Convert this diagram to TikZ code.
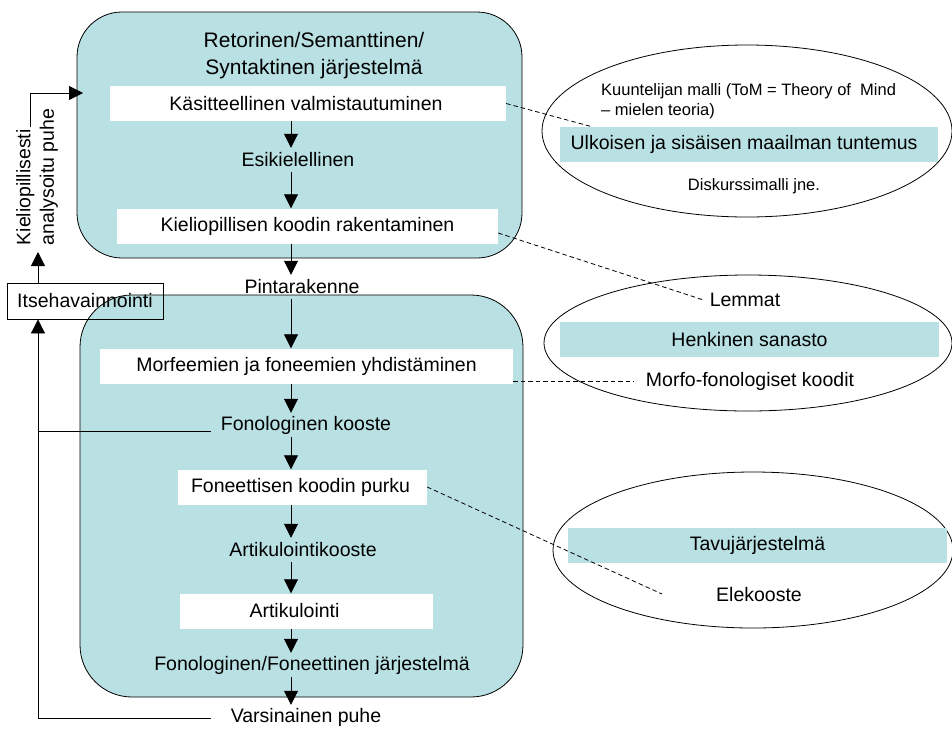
\documentclass[tikz,border=0pt]{standalone}
\usepackage{fontspec}
\setmainfont{Liberation Sans}
\usetikzlibrary{arrows.meta,shapes.geometric}
\definecolor{panelteal}{RGB}{185,224,227}
\newcommand\mainsz{\fontsize{19.5}{23.5}\selectfont}
\newcommand\titlesz{\fontsize{21}{27}\selectfont}
\newcommand\smallsz{\fontsize{16.5}{20}\selectfont}
\begin{document}
\begin{tikzpicture}[x=1pt,y=-1pt,
  panel/.style={draw=black, line width=0.8pt, fill=panelteal, rounded corners=#1, inner sep=0pt},
  whitebox/.style={fill=white, inner sep=0pt, minimum height=35pt, font=\mainsz},
  tealbar/.style={fill=panelteal, inner sep=0pt, minimum height=35pt, font=\mainsz},
  lbl/.style={inner sep=0pt, minimum height=24pt, font=\mainsz},
  note/.style={inner sep=0pt, font=\smallsz},
  memory/.style={draw=black, line width=0.8pt, ellipse, inner sep=0pt},
  arr/.style={line width=0.8pt, -{Triangle[length=14pt,width=14pt]}},
  plain/.style={line width=0.8pt},
  dashline/.style={line width=0.8pt, dash pattern=on 4.5pt off 3pt},
]
\useasboundingbox (0,0) rectangle (952,729);

% two processing stages
\node[panel=45pt, minimum width=445pt, minimum height=246pt] (toppanel) at (299.5,135) {};
\node[panel=52pt, minimum width=443pt, minimum height=402pt] (botpanel) at (301.5,496) {};

% knowledge stores
\node[memory, minimum width=410pt, minimum height=172pt] (mind) at (747,131) {};
\node[memory, minimum width=408pt, minimum height=136pt] (lex) at (748,343) {};
\node[memory, minimum width=400pt, minimum height=156pt] (syl) at (753,550) {};

% upper stage
\node[font=\titlesz, align=center, inner sep=0pt] (title) at (314,56) {Retorinen/Semanttinen/\\Syntaktinen järjestelmä};
\node[whitebox, minimum width=396pt] (b1) at (308,103.5) {Käsitteellinen valmistautuminen\hspace*{4pt}};
\node[lbl] (esik) at (298,160) {Esikielellinen};
\node[whitebox, minimum width=381pt] (b2) at (307.5,226) {Kieliopillisen koodin rakentaminen};
\node[lbl] (pinta) at (302,287) {Pintarakenne};

% lower stage
\node[whitebox, minimum width=413pt] (b3) at (306.5,366) {Morfeemien ja foneemien yhdistäminen};
\node[lbl] (fk) at (306,425) {Fonologinen kooste};
\node[whitebox, minimum width=249pt] (b4) at (302.5,487) {Foneettisen koodin purku\hspace*{4pt}};
\node[lbl] (ak) at (303,550) {Artikulointikooste};
\node[whitebox, minimum width=253pt] (b5) at (306.5,611) {Artikulointi\hspace*{24pt}};
\node[lbl] (fonjar) at (312,665) {Fonologinen/Foneettinen järjestelmä};
\node[lbl] (vp) at (306,717) {Varsinainen puhe};

% store contents
\node[note, align=left, anchor=west] (tom) at (601,101.5) {Kuuntelijan malli (ToM = Theory of\ \ Mind\\– mielen teoria)};
\node[tealbar, minimum width=378pt] (world) at (749,144.5) {Ulkoisen ja sisäisen maailman tuntemus\hspace*{10pt}};
\node[note] (disk) at (754,186) {Diskurssimalli jne.};
\node[lbl] (lemmat) at (745,300) {Lemmat};
\node[tealbar, minimum width=379pt] (sanasto) at (749.5,339.5) {Henkinen sanasto};
\node[lbl] (morfo) at (750,381) {Morfo-fonologiset koodit};
\node[tealbar, minimum width=379pt] (tavu) at (757.5,545.5) {Tavujärjestelmä};
\node[lbl] (elek) at (759,595) {Elekooste};

% main flow
\coordinate (ax) at (291,0);
\draw[arr] (b1.south -| ax) -- (esik.north -| ax);
\draw[arr] (esik.south -| ax) -- (b2.north -| ax);
\draw[arr] (b2.south -| ax) -- (pinta.north -| ax);
\draw[arr] (pinta.south -| ax) -- (b3.north -| ax);
\draw[arr] (b3.south -| ax) -- (fk.north -| ax);
\draw[arr] (fk.south -| ax) -- (b4.north -| ax);
\draw[arr] (b4.south -| ax) -- (ak.north -| ax);
\draw[arr] (ak.south -| ax) -- (b5.north -| ax);
\draw[arr] (b5.south -| ax) -- (fonjar.north -| ax);
\draw[arr] (fonjar.south -| ax) -- (vp.north -| ax);

% links to the stores
\coordinate (mindend) at (593,127);
\coordinate (syllend) at (662,594);
\draw[dashline] (b1.east) -- (mindend);
\draw[dashline] ([yshift=-7pt]b2.east) -- ([xshift=-6pt]lemmat.west);
\draw[dashline] (b3.east |- morfo.west) -- ([xshift=-12pt]morfo.west);
\draw[dashline] (b4.east) -- (syllend);

% self-monitoring loop
\coordinate (fbx) at (38,0);
\node[draw=black, line width=0.8pt, minimum width=156pt, minimum height=36pt, inner sep=0pt, font=\mainsz] (itse) at (85,301) {Itsehavainnointi};
\draw[plain] ([xshift=-10pt,yshift=-6pt]fk.west) -- ([yshift=-6pt]fk.west -| fbx);
\draw[arr] ([xshift=-20pt,yshift=-1pt]vp.west) -| (itse.south -| fbx);
\coordinate (kap) at (38,252);
\draw[arr] (itse.north -| fbx) -- (kap);
\node[font=\mainsz, rotate=90, align=left, inner sep=0pt] (kieltxt) at (37,177) {Kieliopillisesti\\analysoitu puhe};
\coordinate (fbtop) at (30,127);
\coordinate (entry) at (83,93);
\draw[arr] (fbtop) |- (entry);
\end{tikzpicture}
\end{document}
